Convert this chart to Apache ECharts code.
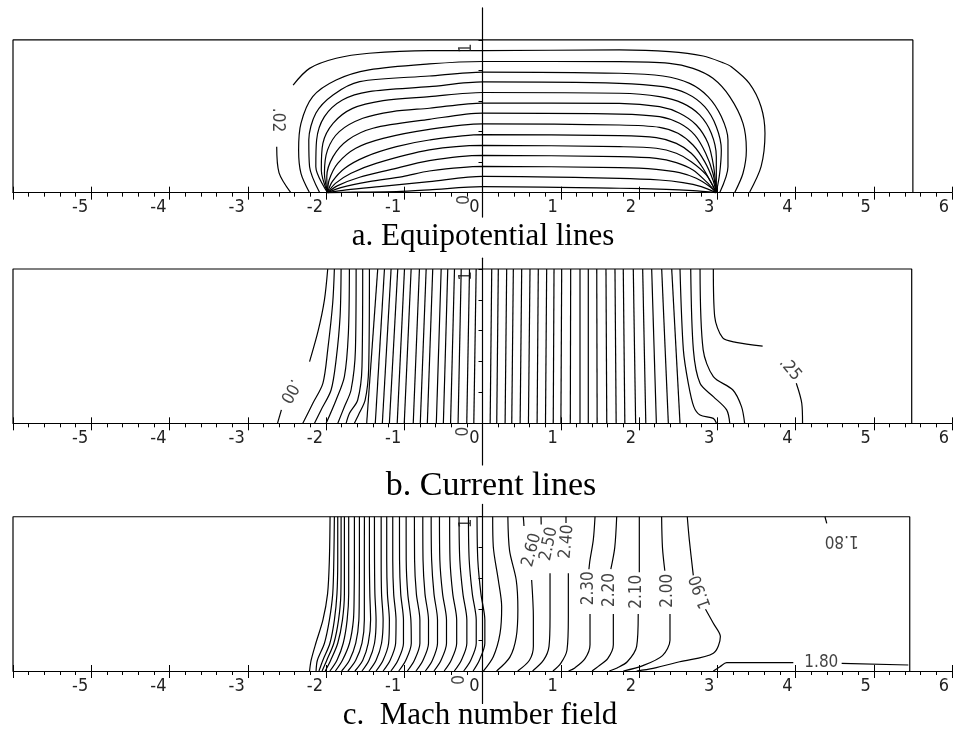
<!DOCTYPE html>
<html><head><meta charset="utf-8">
<script src="https://cdn.jsdelivr.net/npm/echarts@6/dist/echarts.min.js"></script>
<style>html,body{margin:0;padding:0;background:#fff}#c{width:960px;height:740px}</style>
</head><body><div id="c"></div>
<script>
// ---------------- axis / text data ----------------
const panelTitles = ['a. Equipotential lines', 'b. Current lines', 'c.  Mach number field'];
const xTickValues = [-6,-5,-4,-3,-2,-1,0,1,2,3,4,5,6];
const yTickValues = [0.2, 0.4, 0.6, 0.8, 1.0];
const yAxisRanges = [[-0.16, 1.21], [-0.27, 1.07], [-0.21, 1.08]];
const boxRight = [5.50, 5.485, 5.46];

// ---------------- panel a: equipotential lines ----------------
const equipotential = [
  [[-2.45,0],[-2.60,0.13],[-2.63,0.30]],
  [[-2.42,0.705],[-2.21,0.814],[-1.87,0.88],[-1.45,0.913],[-0.68,0.93],[0,0.93],[1.75,0.935],[2.39,0.924],[2.82,0.895],[3.07,0.852],[3.18,0.825],[3.41,0.716],[3.56,0.563],[3.61,0.389],[3.56,0.170],[3.41,0]],
  [[-2.21,0],[-2.32,0.127],[-2.35,0.28],[-2.32,0.454],[-2.17,0.629],[-1.87,0.738],[-1.45,0.804],[-0.68,0.843],[0,0.859],[1.75,0.858],[2.39,0.847],[2.69,0.814],[2.945,0.749],[3.159,0.629],[3.329,0.454],[3.372,0.280],[3.329,0.127],[3.222,0]],
  [[-2.08,0],[-2.21,0.170],[-2.22,0.345],[-2.13,0.520],[-1.91,0.640],[-1.57,0.727],[-0.68,0.764],[0,0.79],[1.75,0.782],[2.306,0.764],[2.647,0.716],[2.882,0.629],[3.052,0.498],[3.137,0.345],[3.137,0.170],[3.031,0]],
  [[-1.98,0],[-2.13,0.170],[-2.12,0.345],[-2.02,0.498],[-1.79,0.607],[-1.45,0.662],[-0.68,0.694],[0,0.725],[1.75,0.716],[2.306,0.694],[2.604,0.651],[2.839,0.563],[2.988,0.432],[3.052,0.280],[3.031,0.127],[2.988,0]],
  [[-1.98,0],[-2.06,0.149],[-2.04,0.323],[-1.91,0.454],[-1.66,0.552],[-1.27,0.603],[-0.68,0.629],[0,0.656],[1.75,0.651],[2.263,0.629],[2.562,0.585],[2.775,0.509],[2.924,0.389],[2.988,0.236],[2.988,0]],
  [[-1.98,0],[-2.02,0.127],[-1.98,0.280],[-1.83,0.400],[-1.53,0.487],[-1.15,0.531],[-0.68,0.553],[0,0.587],[1.75,0.585],[2.263,0.563],[2.519,0.520],[2.732,0.443],[2.882,0.323],[2.954,0.170],[2.988,0]],
  [[-1.98,0],[-1.99,0.105],[-1.91,0.236],[-1.72,0.345],[-1.40,0.422],[-0.68,0.480],[0,0.521],[1.75,0.515],[2.263,0.498],[2.519,0.454],[2.711,0.378],[2.852,0.258],[2.945,0.127],[2.988,0]],
  [[-1.98,0],[-1.96,0.083],[-1.85,0.192],[-1.62,0.291],[-1.27,0.356],[-0.68,0.415],[0,0.451],[1.75,0.443],[2.263,0.428],[2.498,0.389],[2.690,0.312],[2.839,0.203],[2.945,0.083],[2.988,0]],
  [[-1.98,0],[-1.92,0.072],[-1.76,0.160],[-1.49,0.236],[-1.10,0.301],[-0.68,0.345],[0,0.380],[1.75,0.373],[2.221,0.360],[2.477,0.323],[2.668,0.258],[2.818,0.160],[2.988,0]],
  [[-1.98,0],[-1.88,0.061],[-1.68,0.127],[-1.36,0.192],[-0.68,0.280],[0,0.310],[1.75,0.301],[2.221,0.291],[2.477,0.258],[2.668,0.203],[2.860,0.116],[2.988,0]],
  [[-1.98,0],[-1.85,0.046],[-1.57,0.101],[-1.19,0.149],[-0.68,0.210],[0,0.244],[1.75,0.236],[2.221,0.225],[2.477,0.197],[2.690,0.149],[2.860,0.072],[2.988,0]],
  [[-1.98,0],[-1.81,0.033],[-1.45,0.072],[-1.02,0.105],[-0.68,0.142],[0,0.172],[1.75,0.164],[2.221,0.153],[2.519,0.131],[2.732,0.094],[2.903,0.040],[2.988,0]],
  [[-1.98,0],[-1.74,0.018],[-1.32,0.040],[-0.68,0.072],[0,0.107],[1.75,0.094],[2.263,0.083],[2.562,0.066],[2.796,0.040],[2.988,0]],
  [[-1.98,0],[-1.62,0.003],[-1.10,0.007],[-0.68,0.018],[0,0.039],[1.75,0.029],[2.349,0.022],[2.690,0.013],[2.988,0]]
];
const equipotentialLabels = [['.02',-2.62,0.476,-90],['1',-0.2,0.947,90],['0',-0.224,-0.048,90]];

// ---------------- panel b: current lines ----------------
const currentCurved = [
  [[-2.62,0],[-2.57,0.087]],
  [[-2.21,0.40],[-2.10,0.60],[-2.02,0.80],[-1.978,1.0]],
  [[-2.296,0],[-2.168,0.130],[-2.04,0.259],[-1.978,0.476],[-1.914,0.781],[-1.893,1.0]],
  [[-2.147,0],[-2.063,0.087],[-1.935,0.216],[-1.871,0.411],[-1.82,0.693],[-1.807,1.0]],
  [[-1.998,0],[-1.871,0.151],[-1.765,0.303],[-1.714,0.584],[-1.701,1.0]],
  [[-1.849,0],[-1.765,0.108],[-1.68,0.216],[-1.624,0.476],[-1.615,1.0]],
  [[-1.743,0],[-1.70,0.065],[-1.595,0.151],[-1.54,0.368],[-1.531,1.0]],
  [[-1.637,0],[-1.58,0.06],[-1.50,0.15],[-1.455,0.35],[-1.445,1.0]],
  [[2.524,1],[2.567,0.476],[2.63,0.259],[2.70,0.108],[2.78,0.054],[2.95,0.032],[2.99,0]],
  [[2.661,1],[2.695,0.476],[2.78,0.259],[2.95,0.173],[3.12,0.087],[3.16,0]],
  [[2.78,1],[2.82,0.476],[2.95,0.303],[3.20,0.216],[3.31,0.108],[3.35,0]],
  [[2.95,1],[2.967,0.693],[3.07,0.553],[3.24,0.525],[3.58,0.50]],
  [[4.01,0.26],[4.08,0.13],[4.09,0]]
];
const currentTop = [-1.339,-1.253,-1.168,-1.083,-0.997,-0.912,-0.806,-0.720,-0.636,-0.528,-0.444,-0.358,-0.272,-0.166,-0.081,
  0.118,0.202,0.309,0.394,0.501,0.607,0.713,0.820,0.914,1.012,1.127,1.246,1.352,1.460,1.578,1.693,1.799,1.927,2.047,2.162,2.290,2.418];
const currentBottom = [-1.48,-1.37,-1.28,-1.19,-1.09,-1.00,-0.885,-0.795,-0.705,-0.59,-0.50,-0.408,-0.312,-0.201,-0.111,
  0.098,0.182,0.289,0.374,0.481,0.587,0.698,0.805,0.904,1.002,1.122,1.246,1.352,1.465,1.588,1.708,1.819,1.957,2.087,2.222,2.375,2.524];
const currentLabels = [['.00',-2.46,0.21,-120],['.25',3.93,0.35,-50],['1',-0.2,0.955,90],['0',-0.245,-0.054,90]];

// ---------------- panel c: Mach number field ----------------
const machLevelsY = [1.0, 0.72, 0.50, 0.33, 0.18, 0.07, 0.0];
const machLeftX = [
  [-1.948,-1.957,-1.98,-2.04,-2.13,-2.19,-2.21],
  [-1.893,-1.90,-1.914,-1.957,-2.02,-2.11,-2.127],
  [-1.850,-1.850,-1.86,-1.893,-1.95,-2.04,-2.09],
  [-1.807,-1.807,-1.81,-1.84,-1.90,-1.99,-2.05],
  [-1.765,-1.765,-1.765,-1.79,-1.85,-1.94,-2.01],
  [-1.710,-1.71,-1.71,-1.73,-1.78,-1.86,-1.95],
  [-1.637,-1.637,-1.64,-1.65,-1.70,-1.79,-1.88],
  [-1.573,-1.573,-1.575,-1.58,-1.62,-1.70,-1.80],
  [-1.509,-1.51,-1.51,-1.51,-1.54,-1.62,-1.72],
  [-1.445,-1.445,-1.44,-1.43,-1.46,-1.53,-1.63],
  [-1.381,-1.38,-1.375,-1.36,-1.38,-1.45,-1.54],
  [-1.295,-1.295,-1.29,-1.27,-1.29,-1.36,-1.45],
  [-1.224,-1.224,-1.215,-1.19,-1.20,-1.27,-1.36],
  [-1.147,-1.147,-1.135,-1.105,-1.11,-1.18,-1.27],
  [-1.061,-1.06,-1.045,-1.01,-1.01,-1.08,-1.17],
  [-0.976,-0.975,-0.955,-0.915,-0.91,-0.98,-1.07],
  [-0.870,-0.868,-0.845,-0.80,-0.80,-0.87,-0.96],
  [-0.763,-0.760,-0.735,-0.69,-0.69,-0.76,-0.85],
  [-0.656,-0.65,-0.62,-0.575,-0.575,-0.64,-0.73],
  [-0.550,-0.545,-0.51,-0.46,-0.46,-0.53,-0.62],
  [-0.420,-0.415,-0.38,-0.33,-0.33,-0.40,-0.49],
  [-0.300,-0.29,-0.25,-0.20,-0.20,-0.27,-0.36],
  [-0.180,-0.17,-0.13,-0.08,-0.08,-0.15,-0.24],
  [-0.070,-0.06,-0.02,0.03,0.03,-0.04,-0.12]
];
const machRight = [
  [[0.130,1.0],[0.138,0.806],[0.202,0.59],[0.245,0.417],[0.224,0.244],[0.138,0.093],[0.011,0]],
  [[0.324,1.0],[0.346,0.78],[0.431,0.59],[0.452,0.40],[0.431,0.22],[0.35,0.09],[0.18,0]],
  [[0.522,1.0],[0.53,0.94]],
  [[0.628,0.59],[0.650,0.35],[0.65,0.16],[0.60,0.07],[0.45,0]],
  [[0.748,1.0],[0.75,0.95]],
  [[0.863,0.633],[0.863,0.35],[0.85,0.16],[0.78,0.07],[0.64,0]],
  [[1.067,1.0],[1.067,0.96]],
  [[1.097,0.633],[1.097,0.35],[1.08,0.136],[1.0,0.05],[0.90,0]],
  [[1.438,1.0],[1.416,0.85],[1.374,0.72],[1.36,0.66]],
  [[1.374,0.37],[1.374,0.17],[1.31,0.08],[1.18,0.02],[1.10,0]],
  [[1.715,1.0],[1.69,0.80],[1.64,0.66]],
  [[1.672,0.37],[1.672,0.17],[1.60,0.08],[1.48,0.03],[1.40,0]],
  [[2.004,1.0],[2.004,0.64]],
  [[1.99,0.37],[1.97,0.16],[1.85,0.06],[1.72,0.02],[1.62,0]],
  [[2.289,1.0],[2.30,0.80],[2.33,0.65]],
  [[2.396,0.37],[2.396,0.20],[2.30,0.10],[2.05,0.035],[1.80,0]],
  [[2.617,1.0],[2.643,0.85],[2.694,0.62]],
  [[2.85,0.40],[2.95,0.309],[3.04,0.223],[2.95,0.115],[2.52,0.06],[2.18,0.017],[1.97,0]],
  [[2.95,0],[3.035,0.028],[3.121,0.054],[3.972,0.054]],
  [[4.59,0.05],[5.442,0.039]],
  [[4.377,1.0],[4.399,0.957]]
];
const machLabels = [['2.60',0.63,0.784,75],['2.50',0.85,0.823,78],['2.40',1.076,0.838,85],['2.30',1.352,0.536,90],
  ['2.20',1.63,0.525,90],['2.10',1.97,0.514,90],['2.00',2.36,0.52,90],['1.90',2.79,0.514,110],
  ['1.80',4.33,0.054,0],['1.80',4.59,0.849,180],['1',-0.2,0.957,90],['0',-0.29,-0.058,90]];

// ---------------- build chart ----------------
const FONT_PLOT = "'DejaVu Sans Condensed','DejaVu Sans',sans-serif";
const GRID_LEFT = 13, GRID_WIDTH = 939;
const gridBoxes = [{top:7.9,height:209.2},{top:258.2,height:206.8},{top:504.4,height:199}];
const titleTops = [221, 469, 700];
const titleSizes = [31, 34, 31];
const titleCenters = [483, 491, 480];

const grid = [], xAxis = [], yAxis = [], series = [], title = [];
function lineSer(data, gi) {
  return {type:'line', xAxisIndex:gi*2, yAxisIndex:gi, data:data, smooth:0.3, symbol:'none', silent:true,
    lineStyle:{color:'#000', width:1.2}, animation:false, z:3};
}
function labelSer(items, gi, size) {
  return {type:'scatter', xAxisIndex:gi*2, yAxisIndex:gi, symbolSize:1, silent:true, animation:false, z:6,
    itemStyle:{color:'rgba(0,0,0,0)'},
    data: items.map(it => ({value:[it[1], it[2]], label:{show:true, formatter:it[0], rotate:it[3], position:'inside',
      fontSize:size, fontFamily:FONT_PLOT, color:'#111'}}))};
}
for (let gi = 0; gi < 3; gi++) {
  const lo = yAxisRanges[gi][0], hi = yAxisRanges[gi][1];
  const h = gridBoxes[gi].height;
  const xOffset = -(-lo) / (hi - lo) * h;          // lift x axis to y = 0
  const yOffset = -(0 - (-6)) / 12 * GRID_WIDTH;    // move y axis to x = 0
  grid.push({left:GRID_LEFT, width:GRID_WIDTH, top:gridBoxes[gi].top, height:h, containLabel:false});
  xAxis.push({type:'value', gridIndex:gi, position:'bottom', offset:xOffset, min:-6, max:6, interval:1,
    axisLine:{show:true, onZero:false, lineStyle:{color:'#000', width:1.2}},
    axisTick:{show:true, inside:false, length:7, lineStyle:{color:'#000', width:1}},
    minorTick:{show:true, splitNumber:5, length:4, lineStyle:{color:'#000', width:1}},
    splitLine:{show:false}, minorSplitLine:{show:false},
    axisLabel:{show:true, margin:6, align:'right', padding:[0,3,0,0], fontSize:18, fontFamily:FONT_PLOT, color:'#222',
      showMinLabel:true, showMaxLabel:true,
      formatter: v => (v === xTickValues[0] ? '' : String(v))}});
  xAxis.push({type:'value', gridIndex:gi, position:'bottom', offset:xOffset, min:-6, max:6, interval:1,
    axisLine:{show:false, onZero:false},
    axisTick:{show:true, inside:true, length:6, lineStyle:{color:'#000', width:1}},
    axisLabel:{show:false}, splitLine:{show:false}});
  yAxis.push({type:'value', gridIndex:gi, position:'left', offset:yOffset, min:lo, max:hi,
    axisLine:{show:true, onZero:false, lineStyle:{color:'#000', width:1.2}},
    axisTick:{show:true, length:4, customValues:yTickValues, lineStyle:{color:'#000', width:1}},
    axisLabel:{show:false}, splitLine:{show:false}});
  title.push({text:panelTitles[gi], left:titleCenters[gi], textAlign:'center', top:titleTops[gi], padding:0,
    textStyle:{fontFamily:"'Liberation Serif','Times New Roman',serif", fontWeight:'normal', fontSize:titleSizes[gi], color:'#000'}});
  // domain box
  series.push(Object.assign(lineSer([[-6,0],[-6,1],[boxRight[gi],1],[boxRight[gi],0]], gi), {smooth:false, lineStyle:{color:'#000', width:1.2}}));
}
// panel a
equipotential.forEach(seg => series.push(lineSer(seg, 0)));
series.push(labelSer(equipotentialLabels, 0, 17));
// panel b
currentCurved.forEach(seg => series.push(lineSer(seg, 1)));
currentTop.forEach((t, i) => series.push(lineSer([[currentBottom[i], 0], [t, 1]], 1)));
series.push(labelSer(currentLabels, 1, 17));
// panel c
machLeftX.forEach(row => series.push(lineSer(row.map((x, k) => [x, machLevelsY[k]]), 2)));
machRight.forEach(seg => series.push(lineSer(seg, 2)));
series.push(labelSer(machLabels, 2, 17));

const chart = echarts.init(document.getElementById('c'), null, {renderer:'canvas'});
chart.setOption({animation:false, backgroundColor:'#fff', title, grid, xAxis, yAxis, series});
</script></body></html>
